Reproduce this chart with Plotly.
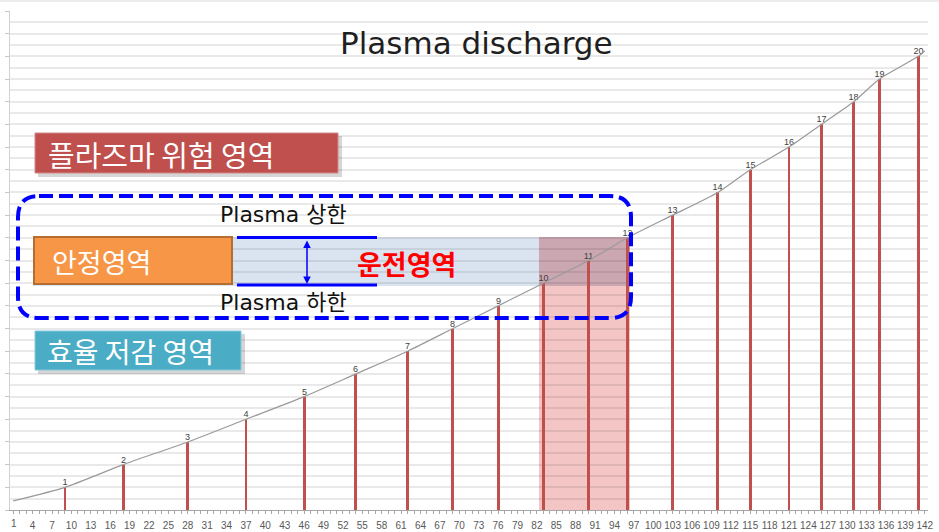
import plotly.graph_objects as go

# ---------------- data ----------------
x_tick_labels = [str(v) for v in range(1, 143, 3)]          # 1, 4, ..., 142
bar_x = [9, 18, 28, 37, 46, 54, 62, 69, 76, 83, 90, 96, 103, 110, 115, 121, 126, 131, 135, 141]
bar_y = [1, 2, 3, 4, 5, 6, 7, 8, 9, 10, 11, 12, 13, 14, 15, 16, 17, 18, 19, 20]
bar_labels = ["1", "2", "3", "4", "5", "6", "7", "8", "9", "10",
              "11", "12", "13", "14", "15", "16", "17", "18", "19", "20"]
curve_x = [1, 9, 18, 28, 37, 46, 54, 62, 69, 76, 83, 90, 96, 103, 110, 115, 121, 126, 131, 135, 141, 142]
curve_y = [0.4, 1, 2, 3, 4, 5, 6, 7, 8, 9, 10, 11, 12, 13, 14, 15, 16, 17, 18, 19, 20, 20.25]

title_text = "Plasma discharge"
danger_text = "플라즈마 위험 영역"
stable_text = "안정영역"
eff_text = "효율 저감 영역"
upper_text = "Plasma 상한"
lower_text = "Plasma 하한"
oper_text = "운전영역"

# ---------------- layout helpers (pixel -> paper) ----------------
W, H = 939, 532
PL, PR, PT, PB = 10, 928, 11, 510


def px(xp):
    return (xp - PL) / (PR - PL)


def py(yp):
    return (PB - yp) / (PB - PT)


KFONT = "Noto Sans CJK KR, DejaVu Sans, sans-serif"
LFONT = "DejaVu Sans, Noto Sans CJK KR, sans-serif"
TICKFONT = dict(family="Liberation Sans, Arial, sans-serif", size=10, color="#595959")
GRID = "rgba(0,0,0,0.085)"

fig = go.Figure()

fig.add_trace(go.Bar(
    x=bar_x, y=bar_y, width=0.45,
    marker=dict(color="#C0504D", line=dict(width=0)),
    text=bar_labels, textposition="outside", constraintext="none",
    textfont=dict(size=9, color="#404040", family="Liberation Sans, Arial, sans-serif"),
    cliponaxis=False, hoverinfo="skip",
))
fig.add_trace(go.Scatter(
    x=curve_x, y=curve_y, mode="lines",
    line=dict(color="#9A9A9A", width=1.2, shape="spline", smoothing=0.6),
    hoverinfo="skip",
))

shapes = []
shapes.append(dict(type="rect", xref="paper", yref="paper", layer="below",
                   x0=px(33), x1=px(539), y0=py(286), y1=py(237),
                   fillcolor="#DAE4F0", line=dict(width=0)))
shapes.append(dict(type="rect", xref="paper", yref="paper", layer="below",
                   x0=px(539), x1=px(630), y0=py(510), y1=py(286),
                   fillcolor="#F4C5C5", line=dict(width=0)))
shapes.append(dict(type="rect", xref="paper", yref="paper", layer="below",
                   x0=px(539), x1=px(630), y0=py(286), y1=py(237),
                   fillcolor="#CBA7B1", line=dict(width=0)))

shapes.append(dict(type="rect", xref="paper", yref="paper", layer="above",
                   x0=px(38), x1=px(342), y0=py(177), y1=py(136),
                   fillcolor="rgba(0,0,0,0.16)", line=dict(width=0)))
shapes.append(dict(type="rect", xref="paper", yref="paper", layer="above",
                   x0=px(35), x1=px(338), y0=py(173), y1=py(133),
                   fillcolor="#C0504D", line=dict(color="#D08A88", width=1)))
shapes.append(dict(type="rect", xref="paper", yref="paper", layer="above",
                   x0=px(34), x1=px(232), y0=py(284), y1=py(237),
                   fillcolor="#F79646", line=dict(color="#B66D31", width=2)))
shapes.append(dict(type="rect", xref="paper", yref="paper", layer="above",
                   x0=px(38), x1=px(245), y0=py(374), y1=py(334),
                   fillcolor="rgba(0,0,0,0.16)", line=dict(width=0)))
shapes.append(dict(type="rect", xref="paper", yref="paper", layer="above",
                   x0=px(35), x1=px(241), y0=py(370), y1=py(331),
                   fillcolor="#4BACC6", line=dict(color="#86C9DB", width=1)))
for yy in (237.5, 285):
    shapes.append(dict(type="line", xref="paper", yref="paper", layer="above",
                       x0=px(237), x1=px(377), y0=py(yy), y1=py(yy),
                       line=dict(color="#0000FF", width=3)))

L, R, T, B, r = 18, 631, 196, 318, 21
path = (
    f"M {px(L + r)},{py(T)} L {px(R - r)},{py(T)} "
    f"Q {px(R)},{py(T)} {px(R)},{py(T + r)} "
    f"L {px(R)},{py(B - r)} "
    f"Q {px(R)},{py(B)} {px(R - r)},{py(B)} "
    f"L {px(L + r)},{py(B)} "
    f"Q {px(L)},{py(B)} {px(L)},{py(B - r)} "
    f"L {px(L)},{py(T + r)} "
    f"Q {px(L)},{py(T)} {px(L + r)},{py(T)} Z"
)
shapes.append(dict(type="path", xref="paper", yref="paper", layer="above", path=path,
                   line=dict(color="#0000FF", width=4, dash="14px,6px")))

shapes.append(dict(type="line", xref="paper", yref="paper", layer="above",
                   x0=px(0), x1=px(939), y0=py(1), y1=py(1),
                   line=dict(color="#D9D9D9", width=1)))

tick_vals = [int(v) for v in x_tick_labels]

annotations = [
    dict(text=title_text, x=px(476), y=py(43), xref="paper", yref="paper",
         showarrow=False, xanchor="center", yanchor="middle",
         font=dict(family=LFONT, size=31, color="#1F1F1F")),
    dict(text=danger_text, x=px(46), y=py(154), xref="paper", yref="paper",
         showarrow=False, xanchor="left", yanchor="middle",
         font=dict(family=KFONT, size=29, color="#FFFFFF")),
    dict(text=stable_text, x=px(50), y=py(261), xref="paper", yref="paper",
         showarrow=False, xanchor="left", yanchor="middle",
         font=dict(family=KFONT, size=27, color="#FFFFFF")),
    dict(text=eff_text, x=px(45), y=py(351), xref="paper", yref="paper",
         showarrow=False, xanchor="left", yanchor="middle",
         font=dict(family=KFONT, size=28, color="#FFFFFF")),
    dict(text=upper_text, x=px(218), y=py(215), xref="paper", yref="paper",
         showarrow=False, xanchor="left", yanchor="middle",
         font=dict(family=LFONT, size=22, color="#111111")),
    dict(text=lower_text, x=px(218), y=py(302), xref="paper", yref="paper",
         showarrow=False, xanchor="left", yanchor="middle",
         font=dict(family=LFONT, size=22, color="#111111")),
    dict(text="<b>" + oper_text + "</b>", x=px(355), y=py(263), xref="paper", yref="paper",
         showarrow=False, xanchor="left", yanchor="middle",
         font=dict(family=KFONT, size=27, color="#FF0000")),
    dict(text="", x=px(307), y=py(284), xref="paper", yref="paper",
         showarrow=True, ax=0, ay=-45, arrowhead=2, arrowsize=1, arrowwidth=1.5,
         arrowside="end+start", arrowcolor="#0000FF", standoff=0, startstandoff=0),
    # first category label (plotly hides the axis label next to the y axis)
    dict(text=x_tick_labels[0], x=px(13.5), y=py(523.5), xref="paper", yref="paper",
         showarrow=False, xanchor="center", yanchor="middle", font=TICKFONT),
]

fig.update_layout(
    width=W, height=H,
    margin=dict(l=PL, r=W - PR, t=PT, b=H - PB, pad=0, autoexpand=False),
    paper_bgcolor="#FFFFFF", plot_bgcolor="#FFFFFF",
    showlegend=False, bargap=0,
    shapes=shapes, annotations=annotations,
    xaxis=dict(
        range=[0.5, 142.5], tickmode="array", automargin=False,
        tickvals=tick_vals[1:], ticktext=x_tick_labels[1:],
        ticklabeloverflow="allow", tickfont=TICKFONT, ticklabelstandoff=3,
        ticks="outside", ticklen=3, tickcolor="#A6A6A6", tickwidth=1,
        showline=True, linecolor="#A6A6A6", linewidth=1,
        showgrid=False, zeroline=False,
        minor=dict(tickmode="linear", tick0=1, dtick=1, ticks="outside",
                   ticklen=3, tickcolor="#A6A6A6", showgrid=False),
    ),
    yaxis=dict(
        range=[0, 22], tickmode="linear", tick0=0, dtick=1, automargin=False,
        showticklabels=False, ticks="outside", ticklen=4, tickcolor="#C8C8C8",
        showline=True, linecolor="#D0D0D0", linewidth=1,
        showgrid=True, gridcolor=GRID, gridwidth=1.5, zeroline=False,
        minor=dict(dtick=0.5, showgrid=True, gridcolor=GRID, gridwidth=1.5),
    ),
)

fig.write_html(
    "out.html",
    config={"displayModeBar": False},
    post_script="document.body.style.margin='0';document.body.style.padding='0';"
                "document.documentElement.style.overflow='hidden';",
)
